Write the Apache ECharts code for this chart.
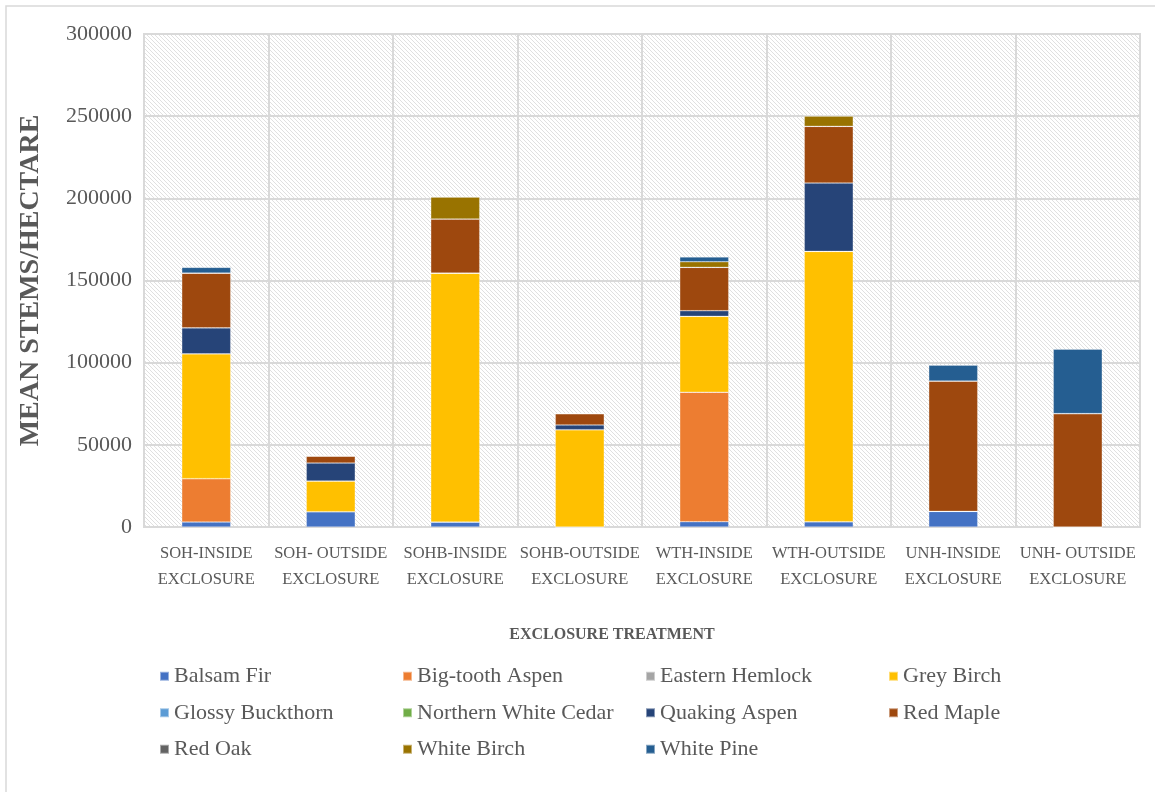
<!DOCTYPE html>
<html>
<head>
<meta charset="utf-8">
<script src="https://cdn.jsdelivr.net/npm/echarts@6/dist/echarts.min.js"></script>
<style>
  html, body { margin: 0; padding: 0; background: #fff; }
  #chart { width: 1155px; height: 792px; }
</style>
</head>
<body>
<div id="chart"></div>
<script>
// Exclosure treatments (two-line category labels)
const categories = [
  'SOH-INSIDE\nEXCLOSURE', 'SOH- OUTSIDE\nEXCLOSURE', 'SOHB-INSIDE\nEXCLOSURE', 'SOHB-OUTSIDE\nEXCLOSURE',
  'WTH-INSIDE\nEXCLOSURE', 'WTH-OUTSIDE\nEXCLOSURE', 'UNH-INSIDE\nEXCLOSURE', 'UNH- OUTSIDE\nEXCLOSURE'
];

// Mean stems per hectare by species
const balsamFir          = [3000, 9300, 3000, 0, 3200, 3200, 9500, 0];
const bigToothAspen      = [26400, 0, 0, 0, 78800, 0, 0, 0];
const easternHemlock     = [0, 0, 0, 0, 0, 0, 0, 0];
const greyBirch          = [76000, 18700, 151500, 59200, 46200, 164500, 0, 0];
const glossyBuckthorn    = [0, 0, 0, 0, 0, 0, 0, 0];
const northernWhiteCedar = [0, 0, 0, 0, 0, 0, 0, 0];
const quakingAspen       = [15800, 10900, 0, 2900, 3400, 41600, 0, 0];
const redMaple           = [33300, 4300, 32900, 6900, 26400, 34500, 79300, 69000];
const redOak             = [0, 0, 0, 0, 0, 0, 0, 0];
const whiteBirch         = [0, 0, 13400, 0, 3400, 6300, 0, 0];
const whitePine          = [3500, 0, 0, 0, 2900, 0, 9700, 39200];

const yTicks = [0, 50000, 100000, 150000, 200000, 250000, 300000];

const species = [
  ['Balsam Fir', balsamFir, '#4472C4'],
  ['Big-tooth Aspen', bigToothAspen, '#ED7D31'],
  ['Eastern Hemlock', easternHemlock, '#A5A5A5'],
  ['Grey Birch', greyBirch, '#FFC000'],
  ['Glossy Buckthorn', glossyBuckthorn, '#5B9BD5'],
  ['Northern White Cedar', northernWhiteCedar, '#70AD47'],
  ['Quaking Aspen', quakingAspen, '#264478'],
  ['Red Maple', redMaple, '#9E480E'],
  ['Red Oak', redOak, '#636363'],
  ['White Birch', whiteBirch, '#997300'],
  ['White Pine', whitePine, '#255E91']
];

// Diagonal hatch fill for the plot area
function hatchTile() {
  const c = document.createElement('canvas');
  c.width = 4; c.height = 4;
  const ctx = c.getContext('2d');
  ctx.fillStyle = '#ffffff';
  ctx.fillRect(0, 0, 4, 4);
  ctx.fillStyle = '#e0e0e0';
  for (let i = 0; i < 4; i++) ctx.fillRect(i, i, 1, 1);
  return c;
}

const FONT = 'Liberation Serif';
const GREY = '#595959';
const GRID = '#d9d9d9';

const chart = echarts.init(document.getElementById('chart'), null, { renderer: 'canvas' });

chart.setOption({
  animation: false,
  backgroundColor: '#ffffff',
  textStyle: { fontFamily: FONT },
  graphic: [{
    type: 'rect',
    shape: { x: 6, y: 6, width: 1170, height: 800 },
    style: { fill: 'none', stroke: GRID, lineWidth: 1.5 },
    silent: true, z: -10
  }],
  grid: {
    left: 144, right: 15, top: 34, bottom: 265,
    show: true,
    backgroundColor: { image: hatchTile(), repeat: 'repeat' },
    borderColor: GRID, borderWidth: 2
  },
  legend: {
    left: 154, top: 658, width: 1000,
    orient: 'horizontal',
    icon: 'rect', itemWidth: 9, itemHeight: 9, itemGap: 10,
    data: species.map(s => s[0]),
    textStyle: { fontFamily: FONT, fontSize: 22, color: GREY, width: 218, lineHeight: 26.5 }
  },
  xAxis: {
    type: 'category',
    data: categories,
    axisLine: { show: true, lineStyle: { color: GRID, width: 2 } },
    axisTick: { show: false },
    splitLine: { show: true, interval: 0, lineStyle: { color: GRID, width: 2 } },
    axisLabel: { interval: 0, margin: 14, fontFamily: FONT, fontSize: 16.5, color: GREY, lineHeight: 26 },
    name: 'EXCLOSURE TREATMENT',
    nameLocation: 'middle', nameGap: 100,
    nameTextStyle: { fontFamily: FONT, fontSize: 16, fontWeight: 'bold', color: GREY, padding: [0, 60, 0, 0] }
  },
  yAxis: {
    type: 'value',
    min: yTicks[0], max: yTicks[yTicks.length - 1], interval: 50000,
    axisLine: { show: false }, axisTick: { show: false },
    splitLine: { show: true, lineStyle: { color: GRID, width: 2 } },
    axisLabel: { margin: 12, fontFamily: FONT, fontSize: 22, color: GREY, formatter: v => String(v) },
    name: 'MEAN STEMS/HECTARE',
    nameLocation: 'middle', nameGap: 99, nameRotate: 90,
    nameTextStyle: { fontFamily: FONT, fontSize: 28, fontWeight: 'bold', color: GREY }
  },
  series: species.map(([name, values, color]) => ({
    name, type: 'bar', stack: 'total',
    data: values,
    barWidth: 49,
    itemStyle: { color, borderColor: 'rgba(255,255,255,0.45)', borderWidth: 0.6 }
  }))
});
</script>
</body>
</html>
